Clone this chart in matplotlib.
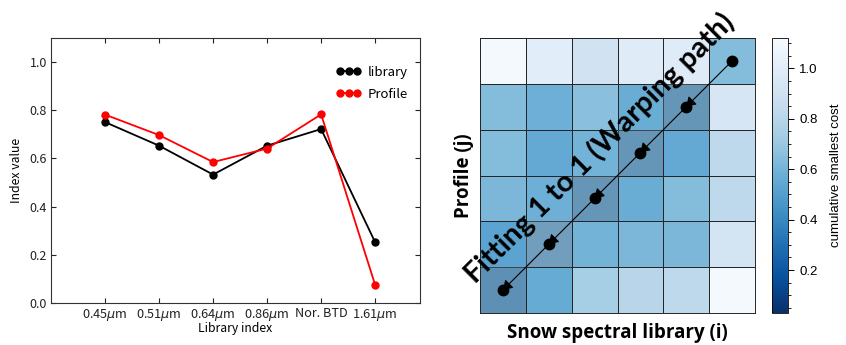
import matplotlib
matplotlib.use("Agg")
import matplotlib.pyplot as plt
import numpy as np
from matplotlib.colors import Normalize

# ---- data ----
categories = [r"0.45$\mu$m", r"0.51$\mu$m", r"0.64$\mu$m", r"0.86$\mu$m", "Nor. BTD", r"1.61$\mu$m"]
library = [0.751, 0.653, 0.533, 0.653, 0.722, 0.252]
profile = [0.782, 0.697, 0.585, 0.641, 0.783, 0.075]
y_ticks = [0.0, 0.2, 0.4, 0.6, 0.8, 1.0]

# cumulative cost matrix, rows j = 0 (bottom) .. 5 (top), cols i = 0..5
cost = [
    [0.48, 0.56, 0.74, 0.80, 0.82, 1.10],
    [0.52, 0.58, 0.60, 0.62, 0.62, 0.92],
    [0.62, 0.58, 0.52, 0.57, 0.64, 0.82],
    [0.64, 0.55, 0.60, 0.52, 0.55, 0.82],
    [0.64, 0.58, 0.66, 0.57, 0.52, 0.94],
    [1.10, 1.00, 0.91, 0.99, 0.99, 0.64],
]
path_i = [5, 4, 3, 2, 1, 0]
path_j = [5, 4, 3, 2, 1, 0]
cbar_ticks = [0.2, 0.4, 0.6, 0.8, 1.0]

fig = plt.figure(figsize=(8.46, 3.45), dpi=100)
fig.patch.set_facecolor("white")

# ---- left line chart ----
lf = ["Noto Sans CJK KR", "DejaVu Sans"]
ax = fig.add_axes([51/846, 1-303/345, 369/846, 265/345])
x = np.arange(len(categories))
ax.plot(x, library, "-o", color="black", lw=1.3, ms=5, label="library")
ax.plot(x, profile, "-o", color="#ff0000", lw=1.3, ms=5, label="Profile")
ax.set_xlim(-1, 5.83)
ax.set_ylim(0, 1.1)
ax.set_xticks(x)
ax.set_xticklabels(categories, fontsize=9.2, family=lf)
ax.set_yticks(y_ticks)
ax.set_yticklabels([f"{v:.1f}" for v in y_ticks], fontsize=9, family=lf)
ax.tick_params(direction="in", top=True, right=True, length=3.5, width=0.8, pad=3, colors="#222222")
ax.set_xlabel("Library index", fontsize=8.8, family=lf, labelpad=-1)
ax.set_ylabel("Index value", fontsize=8.8, family=lf, labelpad=5)
for s in ax.spines.values():
    s.set_linewidth(0.8)
    s.set_color("#333333")
leg = ax.legend(loc="upper right", bbox_to_anchor=(1.0, 0.94), frameon=False, numpoints=3,
                handlelength=1.9, handletextpad=0.5, labelspacing=0.67, markerscale=1.0,
                prop={"family": lf, "size": 9.5})

# ---- right heatmap ----
hx = fig.add_axes([480/846, 1-313/345, 275/846, 275/345])
norm = Normalize(vmin=0.03, vmax=1.12)
cmap = plt.get_cmap("Blues_r")
mesh = hx.pcolormesh(np.arange(7), np.arange(7), np.array(cost), cmap=cmap, norm=norm,
                     edgecolors="#262626", linewidth=0.6)
# grey tint on the warping-path cells
for i, j in zip(path_i, path_j):
    if (i, j) != (5, 5):
        hx.add_patch(plt.Rectangle((i, j), 1, 1, facecolor="#7a7f8a", alpha=0.35,
                                   edgecolor="none", zorder=2))
hx.set_xlim(0, 6)
hx.set_ylim(0, 6)
hx.set_xticks([])
hx.set_yticks([])
for s in hx.spines.values():
    s.set_linewidth(0.7)
    s.set_color("#262626")

cx = [i + 0.5 for i in path_i]
cy = [j + 0.5 for j in path_j]
hx.plot(cx, cy, "o", color="black", ms=7.5, zorder=5)
for k in range(len(cx) - 1):
    hx.annotate("", xy=(cx[k+1], cy[k+1]), xytext=(cx[k], cy[k]),
                arrowprops=dict(arrowstyle="-|>,head_length=0.55,head_width=0.35",
                                color="black", lw=0.8, shrinkA=0, shrinkB=0),
                zorder=6)

bf = ["Open Sans", "DejaVu Sans"]
hx.text(2.60, 3.60, "Fitting 1 to 1 (Warping path)", rotation=45, rotation_mode="anchor",
        ha="center", va="center", fontsize=21, fontweight="bold", family=["Lato", "DejaVu Sans"],
        color="black", clip_on=False, zorder=7)
hx.set_xlabel("Snow spectral library (i)", fontsize=13.5, fontweight="bold", family=bf, labelpad=7)
hx.set_ylabel("Profile (j)", fontsize=13.5, fontweight="bold", family=bf, labelpad=4)

# ---- colorbar ----
cax = fig.add_axes([772/846, 1-313/345, 16/846, 275/345])
cb = fig.colorbar(mesh, cax=cax)
cb.set_ticks(cbar_ticks)
cb.set_ticklabels([f"{v:.1f}" for v in cbar_ticks])
cb.ax.minorticks_on()
cb.ax.yaxis.set_minor_locator(matplotlib.ticker.MultipleLocator(0.05))
cb.ax.tick_params(which="major", length=4, width=0.7, labelsize=9.5, pad=4)
cb.ax.tick_params(which="minor", length=2, width=0.6)
for lab in cb.ax.get_yticklabels():
    lab.set_family(["Liberation Sans", "DejaVu Sans"])
cb.outline.set_linewidth(0.6)
cb.set_label("cumulative smallest cost", fontsize=9.5, family=["Liberation Sans", "DejaVu Sans"], labelpad=9)

fig.savefig("out.png", dpi=100)
